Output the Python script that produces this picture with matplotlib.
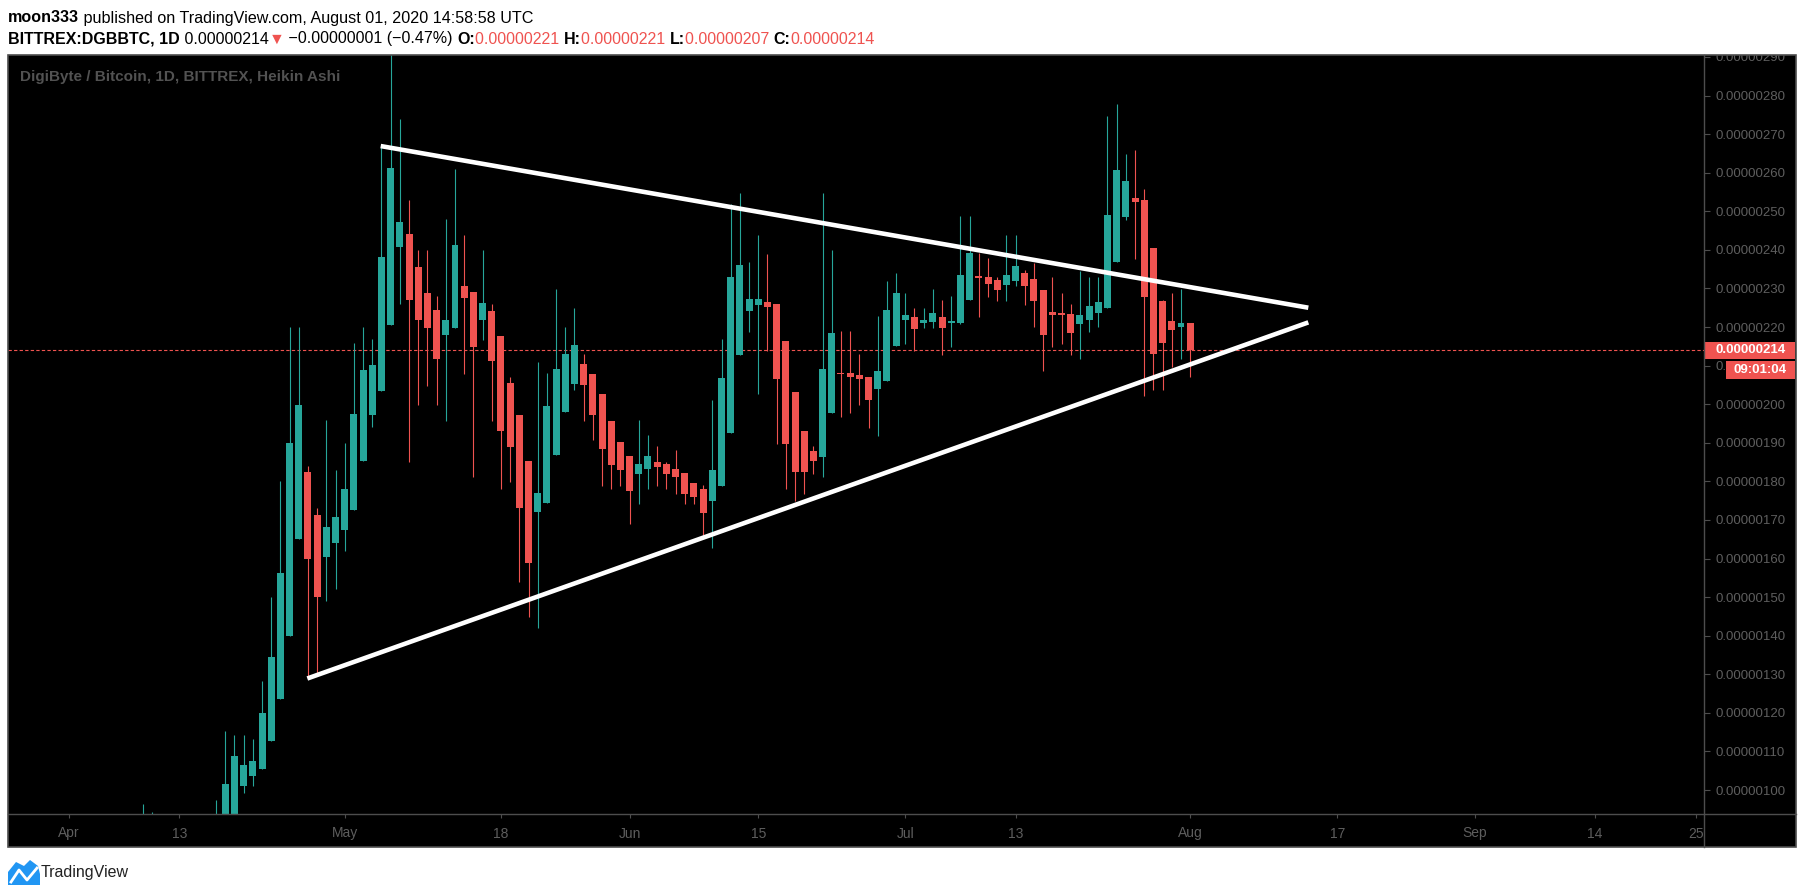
import matplotlib
matplotlib.use("Agg")
import matplotlib.pyplot as plt
import matplotlib.dates as mdates
from matplotlib.patches import Rectangle, Polygon
from matplotlib.lines import Line2D
from matplotlib.transforms import blended_transform_factory
import pandas as pd

# ── data (prices in satoshi, 1 sat = 0.00000001 BTC) ──────────────────────
dates = pd.date_range("2020-04-01", "2020-08-01", freq="D")

# Heikin Ashi candles; Apr 1-16 sit below the visible floor
open_ = [
    # Apr
    84.0, 85.0, 85.5, 86.0, 86.5, 87.0, 87.5, 88.0, 88.5, 89.0,
    89.5, 89.5, 89.5, 89.5, 90.0, 90.5, 91.0, 91.5, 93.0, 101.1,
    103.7, 105.5, 112.6, 123.5, 139.8, 165.0, 182.4, 171.2, 160.5, 163.9,
    # May
    167.5, 172.7, 185.2, 197.1, 203.5, 220.6, 240.8, 244.1, 235.6, 228.7,
    224.3, 218.0, 219.8, 230.6, 229.0, 221.9, 224.1, 217.7, 205.5, 197.1,
    185.2, 172.1, 174.5, 186.9, 198.0, 205.3, 210.4, 207.8, 202.7, 195.6,
    190.2,
    # Jun
    186.6, 182.0, 183.2, 185.0, 184.5, 183.2, 182.2, 179.6, 178.0, 175.0,
    178.9, 192.6, 212.8, 224.2, 225.8, 226.5, 226.0, 216.4, 203.2, 193.1,
    187.9, 186.4, 197.8, 208.2, 208.1, 207.6, 207.1, 204.0, 206.1, 215.2,
    # Jul
    221.9, 222.6, 221.1, 221.4, 222.6, 221.1, 221.1, 227.1, 233.2, 233.0,
    232.2, 231.0, 232.0, 234.0, 232.5, 229.6, 223.9, 223.7, 223.4, 220.9,
    221.9, 223.7, 225.0, 236.9, 248.6, 253.5, 252.9, 240.5, 226.7, 221.6,
    220.1,
    # Aug
    221.0,
]
high = [
    87.5, 88.0, 88.5, 89.0, 89.5, 90.5, 91.0, 92.0, 96.4, 94.3,
    92.0, 91.5, 92.0, 92.5, 93.0, 93.5, 97.4, 115.3, 114.3, 114.3,
    113.2, 128.2, 150.0, 180.0, 220.0, 220.0, 183.9, 173.0, 195.9, 182.9,
    190.0, 215.8, 220.0, 216.8, 266.9, 295.0, 273.9, 252.9, 240.0, 240.0,
    228.1, 248.0, 261.0, 243.9, 229.0, 240.0, 226.0, 217.7, 207.0, 197.1,
    185.2, 210.9, 208.0, 229.9, 220.0, 224.9, 213.0, 207.8, 202.7, 195.6,
    190.2,
    186.6, 195.9, 192.0, 189.2, 185.0, 188.1, 182.2, 179.6, 179.1, 201.1,
    216.9, 251.9, 254.7, 236.9, 243.9, 238.9, 226.0, 216.4, 203.2, 193.1,
    189.2, 254.7, 240.0, 219.0, 219.0, 213.0, 207.1, 222.9, 231.9, 234.0,
    228.8, 224.9, 224.9, 229.9, 227.0, 228.1, 248.8, 248.8, 239.2, 237.9,
    233.0, 243.9, 243.9, 234.8, 236.6, 229.6, 233.0, 228.8, 226.0, 234.5,
    233.0, 233.0, 274.7, 277.8, 264.9, 265.9, 255.8, 240.5, 227.0, 228.7,
    229.9,
    221.0,
]
low = [
    82.0, 83.0, 84.0, 84.5, 85.0, 85.5, 86.0, 86.5, 87.0, 87.5,
    88.0, 88.0, 88.0, 88.0, 88.5, 89.0, 89.5, 90.0, 92.0, 99.1,
    101.1, 105.5, 112.6, 123.5, 139.8, 165.0, 128.9, 130.3, 149.1, 152.0,
    161.9, 172.7, 185.2, 194.0, 203.5, 220.6, 225.9, 184.9, 199.8, 204.8,
    199.8, 195.7, 219.8, 207.9, 181.0, 216.6, 195.7, 177.9, 179.9, 154.0,
    144.9, 142.1, 174.5, 186.9, 198.0, 203.8, 195.7, 190.8, 178.9, 177.9,
    178.9,
    169.0, 174.0, 177.9, 178.9, 177.9, 176.8, 174.0, 174.0, 166.1, 162.8,
    178.9, 192.6, 212.8, 218.8, 202.7, 213.7, 189.8, 177.9, 175.0, 176.8,
    182.0, 181.0, 197.8, 196.8, 197.8, 199.9, 193.9, 191.8, 206.1, 215.2,
    215.7, 213.7, 219.8, 219.8, 212.8, 214.9, 220.9, 227.1, 222.7, 227.9,
    226.8, 226.8, 230.7, 225.8, 219.9, 208.7, 214.9, 215.7, 212.8, 211.8,
    218.8, 219.9, 225.0, 236.9, 247.8, 237.7, 202.0, 203.8, 203.8, 209.6,
    211.8,
    207.0,
]
close = [
    85.0, 86.0, 86.5, 87.0, 87.5, 88.5, 88.5, 89.0, 90.0, 90.5,
    90.0, 89.5, 90.0, 90.5, 91.0, 91.5, 93.0, 101.6, 108.8, 106.5,
    107.5, 120.0, 134.4, 156.3, 190.0, 199.8, 159.9, 149.9, 168.2, 170.7,
    178.0, 197.5, 208.8, 210.2, 238.2, 261.2, 247.2, 226.9, 221.7, 219.8,
    211.8, 221.7, 241.2, 227.4, 214.9, 226.2, 211.3, 193.1, 189.0, 173.2,
    158.9, 177.0, 199.5, 209.1, 213.0, 215.3, 205.0, 197.2, 188.4, 184.3,
    183.0,
    177.6, 184.5, 186.6, 183.7, 181.9, 181.1, 176.8, 176.0, 171.9, 182.9,
    206.8, 233.0, 236.1, 227.3, 227.3, 225.3, 206.6, 189.8, 182.5, 182.3,
    185.4, 209.1, 218.5, 207.7, 207.1, 206.6, 201.2, 208.6, 224.4, 228.8,
    223.1, 219.6, 221.8, 223.6, 219.8, 221.6, 233.5, 239.2, 232.8, 231.2,
    229.7, 233.5, 235.8, 230.5, 226.8, 218.0, 223.0, 223.2, 218.5, 223.1,
    225.5, 226.5, 249.0, 260.7, 257.9, 252.5, 227.9, 213.1, 215.9, 219.1,
    221.1,
    214.0,
]

last_price = 214.0
countdown = "09:01:04"

# hand-drawn triangle (start/end points)
upper_x = ["2020-05-04 22:00", "2020-08-13 20:30"]
upper_y = [266.9, 225.0]
lower_x = ["2020-04-26 22:20", "2020-08-13 20:30"]
lower_y = [128.9, 221.2]

xtick_dates = ["2020-04-01", "2020-04-13", "2020-05-01", "2020-05-18",
               "2020-06-01", "2020-06-15", "2020-07-01", "2020-07-13",
               "2020-08-01", "2020-08-17", "2020-09-01", "2020-09-14",
               "2020-09-25"]
xtick_labels = ["Apr", "13", "May", "18", "Jun", "15", "Jul", "13",
                "Aug", "17", "Sep", "14", "25"]
ytick_vals = list(range(100, 300, 10))

# ── style ─────────────────────────────────────────────────────────────────
GREEN = "#26a69a"
RED = "#ef5350"
GRID = "#4d4d4d"
LABEL = "#5e5e5e"
FONT = "Liberation Sans"
plt.rcParams["font.family"] = [FONT, "DejaVu Sans"]

W, H = 1805, 894
fig = plt.figure(figsize=(W / 100, H / 100), dpi=100, facecolor="white")


def fx(x):
    return x / W


def fy(y):
    return 1 - y / H


# chart frame (black panel incl. both axis strips)
L, T, R, B = 8, 55, 1796, 847
AX_R, AX_B = 1704, 814
fig.patches.append(Rectangle((fx(L), fy(B)), fx(R) - fx(L), fy(T) - fy(B),
                             transform=fig.transFigure, facecolor="black",
                             edgecolor="none", zorder=-1))

ax = fig.add_axes([fx(L), fy(AX_B), fx(AX_R) - fx(L), fy(T) - fy(AX_B)])
ax.set_facecolor("black")
for sp in ax.spines.values():
    sp.set_visible(False)

x = mdates.date2num(dates)
base = mdates.date2num(pd.Timestamp("2020-04-01"))
ax.set_xlim(base - 6.64, base + 177.91)
ax.set_ylim(93.78, 290.5)

# ── candles ───────────────────────────────────────────────────────────────
colors = [GREEN if c >= o else RED for o, c in zip(open_, close)]
ax.vlines(x, low, high, colors=colors, linewidth=0.8, zorder=2)
bottoms = [min(o, c) for o, c in zip(open_, close)]
heights = [max(abs(c - o), 0.3) for o, c in zip(open_, close)]
ax.bar(x, heights, bottom=bottoms, width=0.76, color=colors,
       linewidth=0, zorder=3)

# ── triangle ──────────────────────────────────────────────────────────────
for xs, ys in ((upper_x, upper_y), (lower_x, lower_y)):
    ax.plot(mdates.date2num(pd.to_datetime(xs)), ys, color="white",
            linewidth=3.3, solid_capstyle="butt", zorder=4)

# last price line
ax.axhline(last_price, color=RED, linewidth=0.8, dashes=(3, 2), zorder=1)

# ── axes ticks ────────────────────────────────────────────────────────────
ax.set_xticks(mdates.date2num(pd.to_datetime(xtick_dates)))
ax.set_xticklabels(xtick_labels)
ax.tick_params(axis="x", direction="out", length=3, width=0.8, color=GRID,
               labelcolor=LABEL, labelsize=10, pad=6)
ax.yaxis.tick_right()
ax.set_yticks(ytick_vals)
ax.set_yticklabels([f"{v / 1e8:.8f}" for v in ytick_vals])
ax.tick_params(axis="y", direction="out", length=4, width=0.8, color=GRID,
               labelcolor=LABEL, labelsize=9.5, pad=4)

# price + countdown badges on the price scale
bt = blended_transform_factory(ax.transAxes, ax.transData)
ax_w = AX_R - L
px_per_sat = (AX_B - T) / (290.5 - 93.78)
h1 = 17 / px_per_sat
ax.add_patch(Rectangle((1.0, last_price - h1 / 2), (1795 - AX_R) / ax_w, h1,
                       transform=bt, facecolor=RED, edgecolor="none",
                       clip_on=False, zorder=10))
ax.text(1.0 + 11 / ax_w, last_price, f"{last_price / 1e8:.8f}", transform=bt,
        color="white", fontsize=9.5, fontweight="bold", va="center",
        ha="left", clip_on=False, zorder=11)
cd_y = last_price - 20 / px_per_sat
h2 = 18 / px_per_sat
ax.add_patch(Rectangle((1.0 + 22 / ax_w, cd_y - h2 / 2), (1795 - 1726) / ax_w,
                       h2, transform=bt, facecolor=RED, edgecolor="none",
                       clip_on=False, zorder=10))
ax.text(1.0 + 30 / ax_w, cd_y, countdown, transform=bt, color="white",
        fontsize=9.5, fontweight="bold", va="center", ha="left",
        clip_on=False, zorder=11)

ax.text(12 / ax_w, 1 - 22 / (AX_B - T),
        "DigiByte / Bitcoin, 1D, BITTREX, Heikin Ashi", transform=ax.transAxes,
        color="#525252", fontsize=11, fontweight="bold", va="center",
        ha="left", zorder=12)

# white cover above the frame (hides the cut 0.00000290 label overflow)
fig.patches.append(Rectangle((0, fy(T)), 1, 1 - fy(T), transform=fig.transFigure,
                             facecolor="white", edgecolor="none", zorder=5))
# frame border and axis separators
fig.patches.append(Rectangle((fx(L), fy(B)), fx(R) - fx(L), fy(T) - fy(B),
                             transform=fig.transFigure, facecolor="none",
                             edgecolor=GRID, linewidth=1.2, zorder=6))
fig.lines.append(Line2D([fx(AX_R), fx(AX_R)], [fy(T), fy(B)],
                        transform=fig.transFigure, color=GRID, linewidth=1.0,
                        zorder=6))
fig.lines.append(Line2D([fx(L), fx(R)], [fy(AX_B), fy(AX_B)],
                        transform=fig.transFigure, color=GRID, linewidth=1.0,
                        zorder=6))

# ── header ────────────────────────────────────────────────────────────────
renderer = fig.canvas.get_renderer()


def put_run(x0, y0, pieces, size):
    xc = x0
    for s, color, weight in pieces:
        t = fig.text(fx(xc), fy(y0), s, color=color, fontweight=weight,
                     fontsize=size, va="center", ha="left", zorder=7)
        xc += t.get_window_extent(renderer=renderer).width


put_run(8, 18, [("moon333", "black", "bold"),
                (" published on TradingView.com, August 01, 2020 14:58:58 UTC",
                 "black", "normal")], 11.6)
put_run(8, 39, [("BITTREX:DGBBTC, 1D", "black", "bold"),
                (" 0.00000214", "black", "normal"),
                ("▼", RED, "normal"),
                (" \u22120.00000001 (\u22120.47%) ", "black", "normal"),
                ("O:", "black", "bold"), ("0.00000221 ", RED, "normal"),
                ("H:", "black", "bold"), ("0.00000221 ", RED, "normal"),
                ("L:", "black", "bold"), ("0.00000207 ", RED, "normal"),
                ("C:", "black", "bold"), ("0.00000214", RED, "normal")], 11.5)

# ── footer logo ───────────────────────────────────────────────────────────
logo = [(8, 885), (8, 872), (16, 862), (24, 866), (30, 860), (38, 866),
        (40, 874), (40, 885)]
fig.patches.append(Polygon([(fx(a), fy(b)) for a, b in logo],
                           closed=True, transform=fig.transFigure,
                           facecolor="#2196f3", edgecolor="none", zorder=7))
fig.lines.append(Line2D([fx(a) for a in (11, 19, 27, 37)],
                        [fy(b) for b in (882, 870, 880, 868)],
                        transform=fig.transFigure, color="white",
                        linewidth=2.0, zorder=8))
fig.text(fx(41), fy(873), "TradingView", fontsize=11.5, color="#222222",
         va="center", ha="left", zorder=7)

fig.savefig("out.png", dpi=100, facecolor="white")
